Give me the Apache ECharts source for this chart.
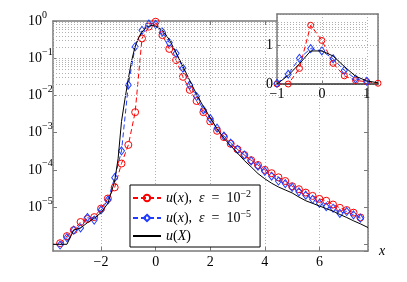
<!DOCTYPE html>
<html><head><meta charset="utf-8">
<script src="https://cdn.jsdelivr.net/npm/echarts@6/dist/echarts.min.js"></script>
<style>html,body{margin:0;padding:0;background:#fff}#c{width:407px;height:282px}</style>
</head><body><div id="c"></div>
<script>
// ---- data ----
const markX = [-3.5,-3.25,-3,-2.75,-2.5,-2.25,-2,-1.75,-1.5,-1.25,-1,-0.75,-0.5,-0.25,0,0.25,0.5,0.75,1,1.25,1.5,1.75,2,2.25,2.5,2.75,3,3.25,3.5,3.75,4,4.25,4.5,4.75,5,5.25,5.5,5.75,6,6.25,6.5,6.75,7,7.25,7.5];
const redVals = [1.07e-6,1.66e-6,2.40e-6,3.98e-6,4.79e-6,5.37e-6,9.12e-6,1.70e-5,3.39e-5,1.48e-4,4.68e-4,3.55e-3,0.339,0.708,0.955,0.417,0.178,0.0891,0.0316,0.0141,7.08e-3,3.55e-3,2.0e-3,1.12e-3,7.59e-4,5.01e-4,3.55e-4,2.51e-4,1.82e-4,1.35e-4,1.0e-4,8.13e-5,6.31e-5,5.01e-5,3.63e-5,3.02e-5,2.45e-5,2.0e-5,1.66e-5,1.48e-5,1.17e-5,9.55e-6,8.32e-6,7.08e-6,5.25e-6];
const blueVals = [9.55e-7,1.51e-6,2.40e-6,2.75e-6,5.25e-6,4.47e-6,8.32e-6,1.55e-5,6.17e-5,3.24e-4,0.0191,0.204,0.562,0.832,0.813,0.501,0.263,0.135,0.0537,0.0191,9.33e-3,4.07e-3,2.40e-3,1.32e-3,8.13e-4,5.25e-4,3.55e-4,2.51e-4,1.74e-4,1.26e-4,9.12e-5,6.76e-5,5.01e-5,4.27e-5,3.39e-5,2.57e-5,2.09e-5,1.62e-5,1.26e-5,1.02e-5,9.33e-6,6.76e-6,7.59e-6,6.17e-6,5.01e-6];
const blackX = [-3.76,-3.5,-3.25,-3,-2.75,-2.5,-2.25,-2,-1.75,-1.5,-1.375,-1.25,-1.125,-1,-0.875,-0.75,-0.625,-0.5,-0.375,-0.25,-0.125,0,0.125,0.25,0.5,0.75,1,1.25,1.5,1.75,2,2.25,2.5,2.75,3,3.25,3.5,3.75,4,4.25,4.5,4.75,5,5.25,5.5,5.75,6,6.25,6.5,6.75,7,7.25,7.5,7.78];
const blackVals = [1.0e-6,1.0e-6,1.0e-6,2.40e-6,2.75e-6,3.80e-6,5.01e-6,7.08e-6,1.26e-5,5.01e-5,2.0e-4,2.0e-3,7.94e-3,0.0282,0.0891,0.209,0.355,0.501,0.646,0.724,0.759,0.724,0.646,0.562,0.316,0.141,0.0603,0.0251,0.0107,5.01e-3,2.51e-3,1.26e-3,7.08e-4,4.47e-4,2.82e-4,1.78e-4,1.20e-4,7.94e-5,5.75e-5,4.37e-5,3.47e-5,2.88e-5,2.40e-5,1.86e-5,1.48e-5,1.26e-5,1.07e-5,9.12e-6,7.76e-6,6.31e-6,5.25e-6,4.27e-6,3.55e-6,2.82e-6];
const insetX = [-1,-0.75,-0.5,-0.25,0,0.25,0.5,0.75,1,1.25];
const insetRed = [0,0,0.40,1.51,1.12,0.53,0.21,0.09,0.06,0.02];
const insetBlue = [0.02,0.25,0.66,0.91,0.85,0.65,0.35,0.13,0.07];
const insetBlack = [0,0.22,0.52,0.85,0.85,0.72,0.45,0.20,0.08,0.03];
const xTickLabels = [-2,0,2,4,6];
const yDecadeExps = [0,-1,-2,-3,-4,-5];

const FONT = 'Liberation Serif';
const RED = '#ff0000', BLUE = '#1f3cff', BOX = '#7a7a7a', GRIDC = '#b0b0b0';
const yMin = Math.pow(10, -6.18), yMax = 1;

// grid line positions for the log axis (major decades + minor 2..9)
const yGridVals = [];
for (let e = -7; e <= 0; e++) {
  for (let k = 1; k <= 9; k++) {
    const v = k * Math.pow(10, e);
    if (v > yMin * 1.01 && v < yMax * 0.999) yGridVals.push(v);
  }
}
const zip = (xs, ys) => ys.map((y, i) => [xs[i], y]);
const minus = s => String(s).replace('-', '\u2212');

const chart = echarts.init(document.getElementById('c'), null, {renderer: 'canvas'});
const tickLbl = {fontFamily: FONT, fontSize: 14, color: '#000'};
const boxLine = {show: true, onZero: false, lineStyle: {color: BOX, width: 1.5}};
const dotted = {show: true, lineStyle: {color: GRIDC, type: [1, 2], width: 1}};

const legendNames = {
  r: '{i|u}{n|(}{i|x}{n|),  }{i|ε}{n|  =  10}{s|\u22122}',
  b: '{i|u}{n|(}{i|x}{n|),  }{i|ε}{n|  =  10}{s|\u22125}',
  k: '{i|u}{n|(}{i|X}{n|)}'
};

chart.setOption({
  animation: false,
  backgroundColor: '#fff',
  grid: [
    {left: 53, top: 21, width: 315, height: 230, show: false},
    {left: 277, top: 14, width: 101, height: 70, show: true, backgroundColor: '#fff', borderWidth: 0, z: 5}
  ],
  legend: {
    data: ['r', 'b', {name: 'k', itemStyle: {color: 'rgba(0,0,0,0)', borderWidth: 0}}],
    orient: 'vertical', left: 130, top: 185,
    itemWidth: 28, itemHeight: 8, itemGap: 4,
    padding: [4, 9, 4, 2],
    backgroundColor: '#fff', borderColor: '#000', borderWidth: 1,
    selectedMode: false,
    formatter: n => legendNames[n],
    textStyle: {
      fontFamily: FONT, fontSize: 14, color: '#000',
      rich: {
        i: {fontFamily: FONT, fontSize: 14, fontStyle: 'italic', lineHeight: 18, verticalAlign: 'middle'},
        n: {fontFamily: FONT, fontSize: 14, lineHeight: 18, verticalAlign: 'middle'},
        s: {fontFamily: FONT, fontSize: 10, verticalAlign: 'top', lineHeight: 10}
      }
    }
  },
  xAxis: [
    {type: 'value', gridIndex: 0, min: -3.76, max: 7.78, splitNumber: 5,
     axisLine: boxLine, axisTick: {show: true, inside: true, length: 4, lineStyle: {color: BOX}},
     splitLine: dotted,
     axisLabel: {...tickLbl, margin: 4, showMinLabel: false, showMaxLabel: false,
       formatter: v => xTickLabels.includes(v) ? minus(v) : ''},
     name: 'x', nameLocation: 'end', nameGap: 11,
     nameTextStyle: {fontFamily: FONT, fontSize: 14, fontStyle: 'italic', color: '#000', padding: [0, 0, 20, 0]}},
    {type: 'value', gridIndex: 0, position: 'top', min: -3.76, max: 7.78, splitNumber: 5,
     axisLine: boxLine, axisTick: {show: true, inside: true, length: 4, lineStyle: {color: BOX}},
     splitLine: {show: false}, axisLabel: {show: false}},
    {type: 'value', gridIndex: 1, min: -1, max: 1.25, interval: 1, z: 6,
     axisLine: {show: true, onZero: false, lineStyle: {color: '#333', width: 1.5}},
     axisTick: {show: true, inside: true, length: 3, lineStyle: {color: BOX}},
     splitLine: dotted,
     axisLabel: {...tickLbl, margin: 3, showMaxLabel: false, formatter: v => minus(v)}},
    {type: 'value', gridIndex: 1, position: 'top', min: -1, max: 1.25, interval: 1, z: 6,
     axisLine: boxLine, axisTick: {show: false}, splitLine: {show: false}, axisLabel: {show: false}}
  ],
  yAxis: [
    {type: 'log', gridIndex: 0, logBase: 10, min: yMin, max: yMax,
     axisLine: boxLine, axisTick: {show: true, inside: true, length: 4, lineStyle: {color: BOX}},
     splitLine: {show: false},
     axisLabel: {
       margin: 25, align: 'left', showMinLabel: false,
       formatter: v => {
         const e = Math.log10(v), r = Math.round(e);
         if (Math.abs(e - r) > 1e-6 || !yDecadeExps.includes(r)) return '';
         return '{b|10}{s|' + (r === 0 ? '0' : '\u2212' + (-r)) + '}';
       },
       rich: {
         b: {fontFamily: FONT, fontSize: 14, color: '#000', lineHeight: 22, verticalAlign: 'middle'},
         s: {fontFamily: FONT, fontSize: 10, color: '#000', lineHeight: 11, verticalAlign: 'top'}
       }
     }},
    {type: 'log', gridIndex: 0, logBase: 10, min: yMin, max: yMax, position: 'right',
     axisLine: boxLine, axisTick: {show: true, inside: true, length: 4, lineStyle: {color: BOX}},
     splitLine: {show: false}, axisLabel: {show: false}},
    {type: 'value', gridIndex: 1, min: 0, max: 1.8, interval: 1, z: 6,
     axisLine: {show: true, onZero: false, lineStyle: {color: BOX, width: 1.5}},
     axisTick: {show: true, inside: true, length: 3, lineStyle: {color: BOX}},
     splitLine: dotted,
     axisLabel: {...tickLbl, margin: 4, showMaxLabel: false}},
    {type: 'value', gridIndex: 1, min: 0, max: 1.8, interval: 1, position: 'right', z: 6,
     axisLine: boxLine, axisTick: {show: false}, splitLine: {show: false}, axisLabel: {show: false}}
  ],
  series: [
    {type: 'line', name: 'grid', xAxisIndex: 0, yAxisIndex: 0, data: [], silent: true, z: 1,
     markLine: {silent: true, symbol: ['none', 'none'], label: {show: false},
       lineStyle: {color: GRIDC, type: [1, 2], width: 1},
       emphasis: {disabled: true},
       data: yGridVals.map(v => ({yAxis: v}))}},
    {type: 'line', name: 'r', xAxisIndex: 0, yAxisIndex: 0, data: zip(markX, redVals),
     symbol: 'circle', symbolSize: 7, showAllSymbol: true,
     lineStyle: {color: RED, width: 1, type: [5, 3]},
     itemStyle: {color: 'rgba(0,0,0,0)', borderColor: RED, borderWidth: 1}, z: 2},
    {type: 'line', name: 'b', xAxisIndex: 0, yAxisIndex: 0, data: zip(markX, blueVals),
     symbol: 'diamond', symbolSize: [6, 8], showAllSymbol: true,
     lineStyle: {color: BLUE, width: 1, type: [5, 3]},
     itemStyle: {color: 'rgba(0,0,0,0)', borderColor: BLUE, borderWidth: 1}, z: 2},
    {type: 'line', name: 'k', xAxisIndex: 0, yAxisIndex: 0, data: zip(blackX, blackVals),
     symbol: 'none', lineStyle: {color: '#000', width: 1}, itemStyle: {color: '#000'}, z: 3},
    {type: 'line', name: 'ri', xAxisIndex: 2, yAxisIndex: 2, data: zip(insetX, insetRed),
     symbol: 'circle', symbolSize: 6, lineStyle: {color: RED, width: 1, type: [5, 3]},
     itemStyle: {color: 'rgba(0,0,0,0)', borderColor: RED, borderWidth: 1}, z: 7},
    {type: 'line', name: 'bi', xAxisIndex: 2, yAxisIndex: 2, data: zip(insetX, insetBlue),
     symbol: 'diamond', symbolSize: [6, 8], lineStyle: {color: BLUE, width: 1, type: [5, 3]},
     itemStyle: {color: 'rgba(0,0,0,0)', borderColor: BLUE, borderWidth: 1}, z: 7},
    {type: 'line', name: 'ki', xAxisIndex: 2, yAxisIndex: 2, data: zip(insetX, insetBlack),
     symbol: 'none', lineStyle: {color: '#000', width: 1}, z: 8}
  ]
});
</script></body></html>
